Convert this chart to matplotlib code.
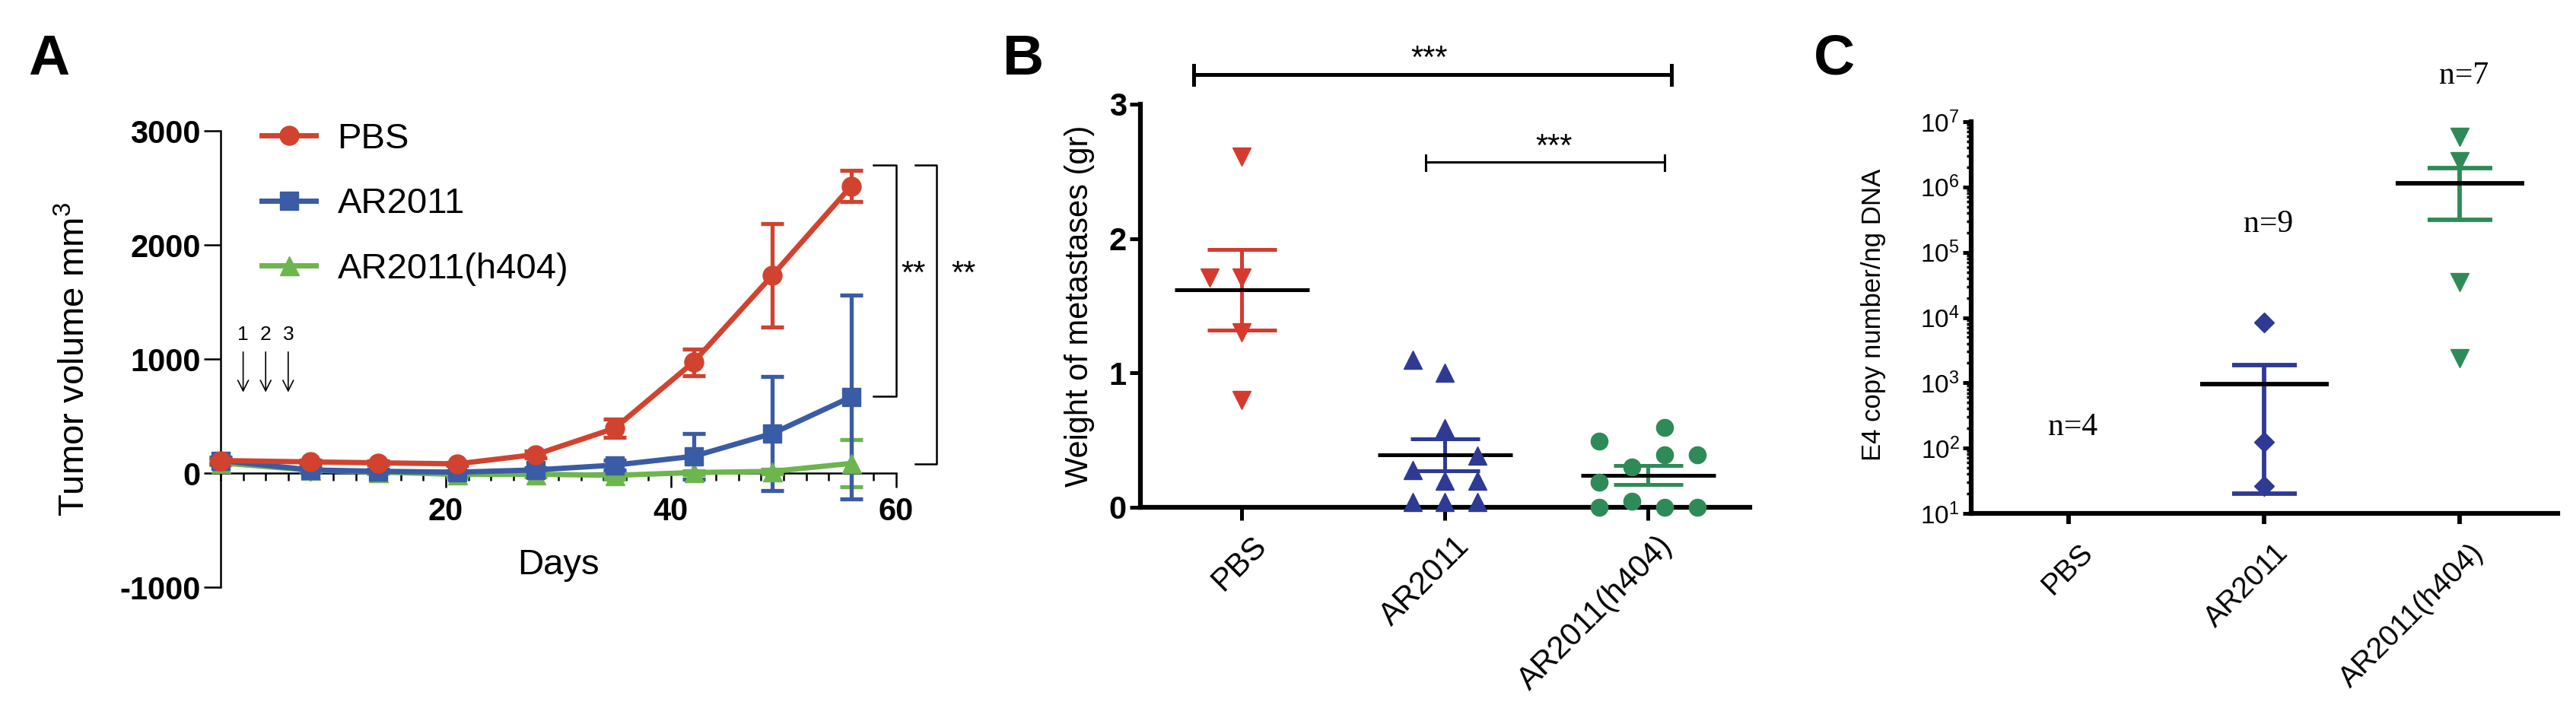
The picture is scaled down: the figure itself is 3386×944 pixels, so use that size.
import numpy as np
import matplotlib
matplotlib.use('Agg')
import matplotlib.pyplot as plt
from matplotlib.ticker import MultipleLocator, LogLocator, NullFormatter
from matplotlib.transforms import ScaledTranslation

plt.rcParams['font.family'] = ['Liberation Sans', 'DejaVu Sans']
plt.rcParams['mathtext.fontset'] = 'custom'
plt.rcParams['mathtext.rm'] = 'Liberation Sans'
plt.rcParams['axes.unicode_minus'] = False

W, H = 3387, 944

# ---- panel A data: tumor growth ----
days = [0, 8, 14, 21, 28, 35, 42, 49, 56]
pbs_vol = [110, 98, 90, 81, 163, 393, 973, 1733, 2515]
pbs_err = [20, 15, 15, 15, 30, 80, 117, 453, 137]
ar_vol = [110, 28, 16, 8, 28, 70, 147, 347, 667]
ar_err = [30, 20, 15, 15, 20, 45, 203, 497, 893]
h404_vol = [90, 25, 10, -12, -10, -20, 5, 15, 85]
h404_err = [15, 10, 10, 20, 25, 30, 15, 20, 207]
dose_days = [2, 4, 6]
dose_labels = ['1', '2', '3']
legend_labels = ['PBS', 'AR2011', 'AR2011(h404)']

# ---- panel B data: weight of metastases ----
groups = ['PBS', 'AR2011', 'AR2011(h404)']
b_pbs = [2.61, 1.71, 1.71, 1.30, 0.80]
b_pbs_dx = [0, -0.158, 0, 0, 0]
b_ar = [1.10, 1.00, 0.59, 0.385, 0.28, 0.20, 0.20, 0.04, 0.04, 0.04]
b_ar_dx = [-0.158, 0, 0, 0.158, -0.158, 0, 0.158, -0.158, 0, 0.158]
b_h404 = [0.494, 0.597, 0.30, 0.392, 0.392, 0.188, 0.0, 0.044, 0.0, 0.0]
b_h404_dx = [-0.24, 0.079, -0.079, 0.079, 0.24, -0.24, -0.24, -0.079, 0.079, 0.24]
b_mean = [1.62, 0.39, 0.24]
b_sem = [0.30, 0.12, 0.07]

# ---- panel C data: E4 copy number ----
c_ar = [8300, 123, 26]
c_h404 = [5.8e6, 2.45e6, 35000, 2350]
c_mean = [950, 1.13e6]
c_sem = [930, 8.2e5]
c_n = ['n=4', 'n=9', 'n=7']
c_n_y = [207, 2.7e5, 5.1e7]

red_a, blue_a, green_a = '#D1432F', '#3A5BA5', '#6DB54D'
red_b, blue_b, green_b = '#D63A2F', '#2E3A94', '#2E8B57'

fig = plt.figure(figsize=(W / 100, H / 100), dpi=100)


def box(l, r, t, b):
    return [l / W, 1 - b / H, (r - l) / W, (b - t) / H]


def shift_labels(labels, dx_px):
    off = ScaledTranslation(dx_px / 100, 0, fig.dpi_scale_trans)
    for lab in labels:
        lab.set_transform(lab.get_transform() + off)


# ================= A =================
axA = fig.add_axes(box(290, 1178, 172, 772))
axA.set_xlim(0, 60)
axA.set_ylim(-1000, 3000)
for s in ['top', 'right']:
    axA.spines[s].set_visible(False)
axA.spines['bottom'].set_position(('data', 0))
for s in ['left', 'bottom']:
    axA.spines[s].set_linewidth(1.8)

series = [(h404_vol, h404_err, green_a, '^', 18),
          (ar_vol, ar_err, blue_a, 's', 17),
          (pbs_vol, pbs_err, red_a, 'o', 18)]
handles = []
for vol, err, col, mk, ms in series:
    axA.errorbar(days, vol, yerr=err, fmt='none', ecolor=col, elinewidth=3.8,
                 capsize=10.8, capthick=3.8, clip_on=False, zorder=3)
    ln, = axA.plot(days, vol, '-', marker=mk, color=col, lw=5, ms=ms,
                   clip_on=False, zorder=4)
    handles.append(ln)
axA.legend(handles[::-1], legend_labels, loc='upper left', bbox_to_anchor=(0.04, 1.05),
           frameon=False, fontsize=34, handlelength=1.5, handletextpad=0.6,
           labelspacing=0.88, borderaxespad=0)

axA.yaxis.set_major_locator(MultipleLocator(1000))
axA.set_xticks([20, 40, 60])
axA.xaxis.set_minor_locator(MultipleLocator(2))
axA.tick_params(axis='y', length=16, width=1.8, labelsize=30, pad=3)
axA.tick_params(axis='x', which='major', length=14, width=1.8, labelsize=30, pad=8)
axA.tick_params(axis='x', which='minor', length=7, width=1.8)
for lab in axA.get_xticklabels() + axA.get_yticklabels():
    lab.set_fontweight('bold')
axA.set_ylabel('Tumor volume mm$^3$', fontsize=34)
axA.yaxis.set_label_coords(-0.19, 0.5)
axA.text(0.5, 0.048, 'Days', transform=axA.transAxes, fontsize=34,
         ha='center', va='center')

for d, t in zip(dose_days, dose_labels):
    axA.annotate('', xy=(d, 690), xytext=(d, 1080),
                 arrowprops=dict(arrowstyle='->', lw=1.2, color='black',
                                 mutation_scale=25))
    axA.text(d, 1213, t, fontsize=19, ha='center', va='center')

# significance brackets
axA.plot([58, 60, 60, 58], [2700, 2700, 673, 673], color='black', lw=1.8, clip_on=False)
axA.plot([61.7, 63.6, 63.6, 61.7], [2700, 2700, 81, 81], color='black', lw=1.8, clip_on=False)
axA.text(61.5, 1740, '**', fontsize=30, ha='center', va='center')
axA.text(66.0, 1740, '**', fontsize=30, ha='center', va='center')

# ================= B =================
axB = fig.add_axes(box(1499, 2300, 137, 667))
axB.set_xlim(-0.5, 2.5)
axB.set_ylim(0, 3)
for s in ['top', 'right']:
    axB.spines[s].set_visible(False)
for s in ['left', 'bottom']:
    axB.spines[s].set_linewidth(4.5)

pts = [(b_pbs, b_pbs_dx, red_b, 'v', 17), (b_ar, b_ar_dx, blue_b, '^', 17),
       (b_h404, b_h404_dx, green_b, 'o', 16)]
for i, (vals, dx, col, mk, ms) in enumerate(pts):
    axB.plot(np.array(dx) + i, vals, linestyle='none', marker=mk, color=col,
             ms=ms, clip_on=False, zorder=5)
    m, e = b_mean[i], b_sem[i]
    axB.vlines(i, m - e, m + e, color=col, lw=3.6, zorder=3)
    axB.hlines([m - e, m + e], i - 0.17, i + 0.17, color=col, lw=3.6, zorder=3)
    axB.hlines(m, i - 0.333, i + 0.333, color='black', lw=3.6, zorder=4)

axB.set_xticks(range(3))
axB.set_xticklabels(groups, rotation=45, ha='right', va='top', rotation_mode='anchor')
axB.set_yticks([0, 1, 2, 3])
axB.tick_params(axis='y', length=10, width=3.6, labelsize=30, pad=3)
axB.tick_params(axis='x', length=12, width=3.6, labelsize=30, pad=10)
shift_labels(axB.get_xticklabels(), 12)
for lab in axB.get_yticklabels():
    lab.set_fontweight('bold')
axB.set_ylabel('Weight of metastases (gr)', fontsize=30)
axB.yaxis.set_label_coords(-0.075, 0.5)

axB.plot([-0.237, 2.113], [3.22, 3.22], color='black', lw=3.6, clip_on=False)
axB.plot([-0.237, -0.237], [3.15, 3.29], color='black', lw=3.6, clip_on=False)
axB.plot([2.113, 2.113], [3.15, 3.29], color='black', lw=3.6, clip_on=False)
axB.text(0.92, 3.22, '***', fontsize=30, ha='center', va='bottom')
axB.plot([0.903, 2.08], [2.567, 2.567], color='black', lw=2.2, clip_on=False)
axB.plot([0.903, 0.903], [2.51, 2.62], color='black', lw=2.2, clip_on=False)
axB.plot([2.08, 2.08], [2.51, 2.62], color='black', lw=2.2, clip_on=False)
axB.text(1.534, 2.567, '***', fontsize=30, ha='center', va='bottom')

# ================= C =================
axC = fig.add_axes(box(2591, 3362, 160, 675))
axC.set_yscale('log')
axC.set_xlim(-0.5, 2.5)
axC.set_ylim(10, 1e7)
for s in ['top', 'right']:
    axC.spines[s].set_visible(False)
for s in ['left', 'bottom']:
    axC.spines[s].set_linewidth(4.5)

axC.plot([1] * len(c_ar), c_ar, linestyle='none', marker='D', color=blue_b, ms=13,
         zorder=5)
axC.plot([2] * len(c_h404), c_h404, linestyle='none', marker='v', color=green_b, ms=17,
         zorder=5)
for i, col in zip([1, 2], [blue_b, green_b]):
    m, e = c_mean[i - 1], c_sem[i - 1]
    axC.vlines(i, m - e, m + e, color=col, lw=4.2, zorder=3)
    axC.hlines([m - e, m + e], i - 0.164, i + 0.164, color=col, lw=4.2, zorder=3)
    axC.hlines(m, i - 0.33, i + 0.33, color='black', lw=4.2, zorder=4)
for i, (t, y) in enumerate(zip(c_n, c_n_y)):
    axC.text(i + 0.02, y, t, fontsize=30, family=['Liberation Serif', 'DejaVu Serif'],
             ha='center', va='center', clip_on=False)

axC.set_xticks(range(3))
axC.set_xticklabels(groups, rotation=45, ha='right', va='top', rotation_mode='anchor')
axC.yaxis.set_major_locator(LogLocator(base=10, numticks=10))
axC.yaxis.set_minor_locator(LogLocator(base=10, subs=np.arange(2, 10), numticks=20))
axC.yaxis.set_minor_formatter(NullFormatter())
axC.tick_params(axis='y', which='major', length=8, width=3.6, labelsize=24, pad=3)
axC.tick_params(axis='y', which='minor', length=4, width=2.5)
axC.tick_params(axis='x', length=10, width=4.2, labelsize=28, pad=14)
shift_labels(axC.get_xticklabels(), 13)
axC.set_ylabel('E4 copy number/ng DNA', fontsize=25)
axC.yaxis.set_label_coords(-0.145, 0.507)

# panel letters
for t, x in zip(['A', 'B', 'C'], [64, 1345, 2411]):
    fig.text(x / W, 1 - 78 / H, t, fontsize=54, fontweight='bold', ha='center', va='center')

fig.savefig('out.png', dpi=100)
